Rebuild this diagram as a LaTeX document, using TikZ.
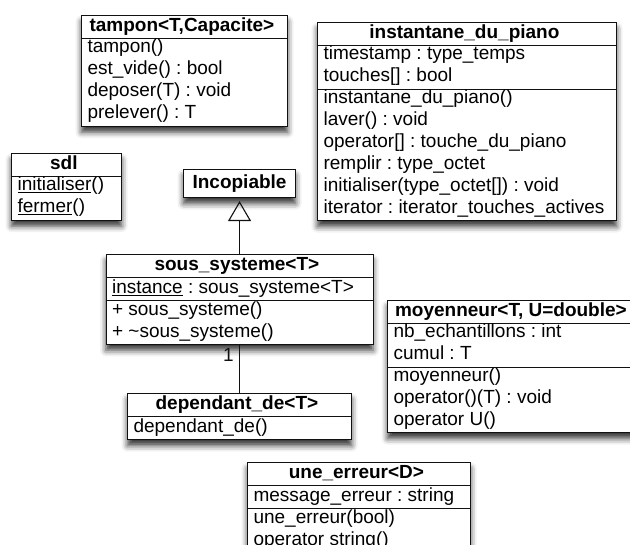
\documentclass[tikz,border=0pt]{standalone}
\usepackage{fontspec}
\setmainfont{Liberation Sans}
\frenchspacing
\usetikzlibrary{arrows.meta,positioning,shapes.multipart,shadows.blur}
\definecolor{umlLine}{HTML}{111111}

\begin{document}
\begin{tikzpicture}[x=1pt, y=-1pt,
      ombre/.style={blur shadow={shadow xshift=0pt, shadow yshift=-6pt,
        shadow blur radius=6pt, shadow opacity=80}},
      umlclass/.style={draw=umlLine, line width=1.1pt, fill=white, ombre,
        rectangle split, rectangle split parts=#1,
        rectangle split part align={center,left,left}, align=left,
        inner xsep=6pt, inner ysep=0pt, font=\fontsize{19}{22}\selectfont,
        execute at begin node=\strut, execute at end node=\strut},
      umlclass/.default=3,
      iface/.style={draw=umlLine, line width=1.1pt, fill=white, ombre,
        font=\fontsize{19}{22}\selectfont\bfseries,
        minimum width=112pt, minimum height=28pt},
      herite/.style={-{Triangle[open, length=20pt, width=23pt]}, line width=1.1pt,
        umlLine, shorten >=3pt},
      assoc/.style={line width=1.1pt, umlLine}]
    \useasboundingbox (0,0) rectangle (630,545);

    \node[umlclass=2, minimum width=206pt, anchor=north west] (tampon) at (81,15)
      {\textbf{tampon<T,Capacite>}
       \nodepart{two} tampon()\\est\_vide() : bool\\deposer(T) : void\\prelever() : T};
    \node[umlclass, minimum width=299pt, anchor=north west] (piano) at (317,22)
      {\textbf{instantane\_du\_piano}
       \nodepart{two} timestamp : type\_temps\\touches[] : bool
       \nodepart{three} instantane\_du\_piano()\\laver() : void\\operator[] : touche\_du\_piano\\
         remplir : type\_octet\\initialiser(type\_octet[]) : void\\iterator : iterator\_touches\_actives};
    \node[umlclass=2, minimum width=110pt, anchor=north west] (sdl) at (11,153)
      {\textbf{sdl}
       \nodepart{two} \underline{initialiser}()\\\underline{fermer}()};
    \node[iface, anchor=north west] (inc) at (183,169) {Incopiable};
    \node[umlclass, minimum width=267pt, below=56pt of inc] (sous)
      {\textbf{sous\_systeme<T>}
       \nodepart{two} \underline{instance} : sous\_systeme<T>
       \nodepart{three} + sous\_systeme()\\+ \textasciitilde sous\_systeme()};
    \node[umlclass=2, minimum width=224pt, below=48pt of sous] (dep)
      {\textbf{dependant\_de<T>}
       \nodepart{two} dependant\_de()};
    \node[umlclass, minimum width=252pt, anchor=north west] (moy) at (387,300)
      {\textbf{moyenneur<T, U=double>}
       \nodepart{two} nb\_echantillons : int\\cumul : T
       \nodepart{three} moyenneur()\\operator()(T) : void\\operator U()};
    \node[umlclass, minimum width=223pt, anchor=north west] (err) at (247,462)
      {\textbf{une\_erreur<D>}
       \nodepart{two} message\_erreur : string
       \nodepart{three} une\_erreur(bool)\\operator string()};

    \draw[herite] (sous.north) -- (inc.south);
    \draw[assoc] (sous.south) -- node[pos=0.22, left=2pt, font=\fontsize{19}{22}\selectfont] {1} (dep.north);
  \end{tikzpicture}
\end{document}
